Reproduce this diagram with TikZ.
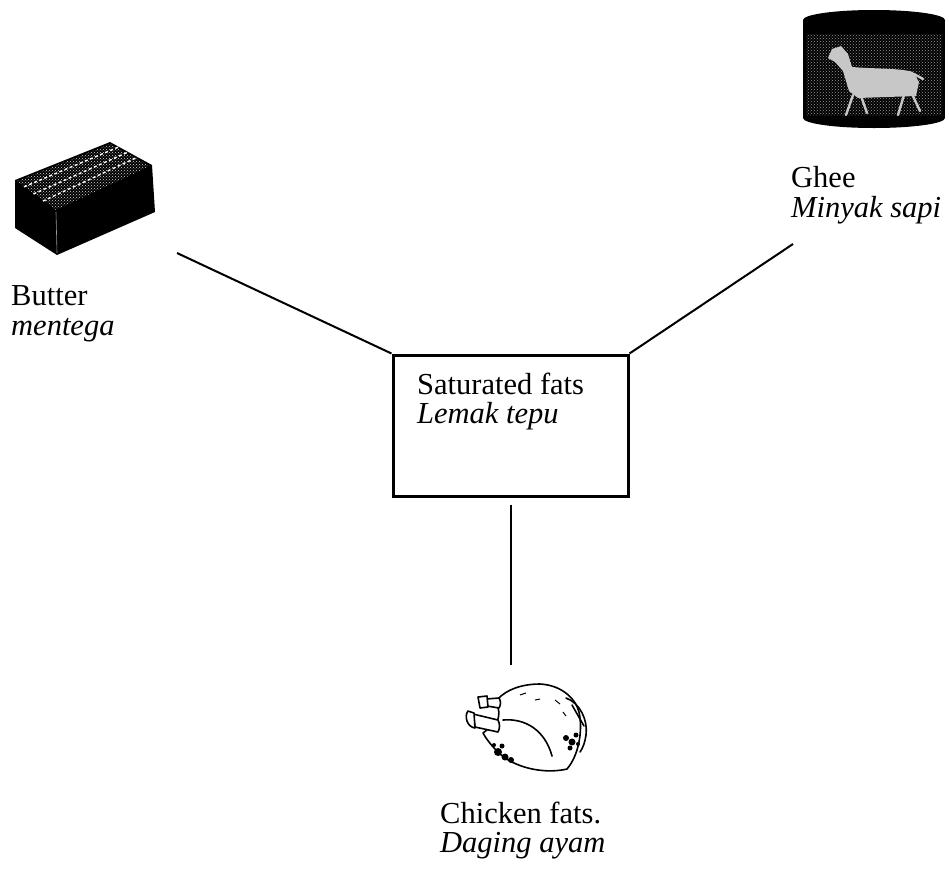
\documentclass[tikz,border=0pt]{standalone}
\usepackage{fontspec}
\setmainfont{Liberation Serif}
\usetikzlibrary{patterns,calc}
\tikzset{
  lbl/.style={font=\fontsize{30.5}{30}\selectfont, inner sep=0pt, anchor=base west},
  ilbl/.style={font=\fontsize{30.5}{30}\selectfont\itshape, inner sep=0pt, anchor=base west},
  conn/.style={line width=2pt, black},
  boxnode/.style={draw, line width=3pt, minimum width=235pt, minimum height=141pt, inner sep=0pt},
  sketch/.style={line width=1.6pt, line join=round, line cap=round},
}
\begin{document}
\begin{tikzpicture}[x=1pt,y=-1pt]
\useasboundingbox (0,0) rectangle (949,868);

% ---- central box
\node[boxnode] (sat) at (510.5,425.5) {};
\node[lbl]  (tSat)   at (417,394) {Saturated fats};
\node[ilbl] (tLemak) at (417,423) {Lemak tepu};

% ---- labels
\node[lbl]  (tButter)  at (11,305) {Butter};
\node[ilbl] (tMentega) at (11,335) {mentega};
\node[lbl]  (tGhee)    at (791,187) {Ghee};
\node[ilbl] (tMinyak)  at (791,217) {Minyak sapi};
\node[lbl]  (tChicken) at (440,823) {Chicken fats.};
\node[ilbl] (tDaging)  at (440,852) {Daging ayam};

% ---- connectors
\coordinate (bEnd) at (177,253);
\coordinate (gEnd) at (793,244);
\coordinate (cEnd) at (510.5,665);
\draw[conn] (bEnd) -- (sat.north west);
\draw[conn] (gEnd) -- (sat.north east);
\draw[conn] ([yshift=-7pt]sat.south) -- (cEnd);

% ---- butter brick
\fill[black] (15,180) -- (110,142) -- (152,165) -- (155,212) -- (57,255) -- (15,228) -- cycle;
\fill[pattern=crosshatch dots, pattern color=white!85!black] (17,181) -- (110,144) -- (150,166) -- (56,210) -- cycle;
\foreach \t in {0.22,0.45,0.68}{
  \draw[white, line width=1.4pt, dash pattern=on 3pt off 2.5pt]
    ($(15,180)+\t*(41,31)$) -- ($(110,142)+\t*(41,22)$);
}
\draw[white!60!black, line width=0.6pt] (56,212) -- (57,253);

% ---- ghee can
\fill[black] (803,20) rectangle (945,118);
\fill[black] (874,118) ellipse [x radius=71pt, y radius=10pt];
\fill[black] (874,20) ellipse [x radius=71pt, y radius=10pt];
\fill[pattern=crosshatch dots, pattern color=black!40] (806,34) rectangle (942,115);
% goat
\fill[black!22] (828,58) -- (832,49) -- (841,46) -- (848,54) -- (852,67)
  .. controls (875,69) and (900,68) .. (913,72) -- (919,82) -- (916,96)
  -- (858,98) -- (849,91) -- (843,71) -- (835,62) -- cycle;
\draw[black!22, line width=2.4pt, line cap=round]
  (853,95) -- (846,115) (861,96) -- (867,113) (904,95) -- (898,115) (912,94) -- (920,111) (914,74) -- (923,79);

% ---- roast chicken
\draw[sketch, fill=white]
  (498,699) .. controls (506,690) and (521,684) .. (540,684)
  .. controls (560,685) and (575,697) .. (579,712)
  .. controls (583,730) and (579,755) .. (567,769)
  .. controls (550,773) and (525,771) .. (505,758)
  .. controls (496,751) and (488,742) .. (483,733)
  -- (497,722) .. controls (500,714) and (499,709) .. (497,706) -- cycle;
% upper drumstick
\draw[sketch, fill=white] (486,699) -- (499,698) .. controls (501,701) and (501,705) .. (499,708) -- (487,706) -- cycle;
\draw[sketch, fill=white] (478,697) -- (487,696) -- (488,707) -- (480,708) -- cycle;
% lower drumstick
\draw[sketch, fill=white] (473,714) -- (498,720) .. controls (500,724) and (500,728) .. (498,732) -- (475,727) -- cycle;
\draw[sketch, fill=white] (468,711) .. controls (464,716) and (467,727) .. (475,728) -- (474,713) -- cycle;
% details
\draw[sketch] (503,720) .. controls (525,718) and (545,730) .. (552,756);
\draw[sketch] (566,698) .. controls (580,703) and (588,720) .. (586,735) .. controls (585,742) and (583,748) .. (580,752);
\draw[sketch] (572,705) -- (584,726);
\draw[line width=1pt] (520,695) -- (526,693) (535,700) -- (540,699) (555,700) -- (560,704) (563,712) -- (566,716);
\fill[black] (498,752) circle (4pt) (505,757) circle (3.5pt) (511,760) circle (3pt) (502,746) circle (2.5pt) (494,745) circle (2pt);
\fill[black] (566,738) circle (3pt) (572,742) circle (3.5pt) (576,735) circle (2.5pt) (570,748) circle (2.5pt) (578,744) circle (2pt);
\end{tikzpicture}
\end{document}
